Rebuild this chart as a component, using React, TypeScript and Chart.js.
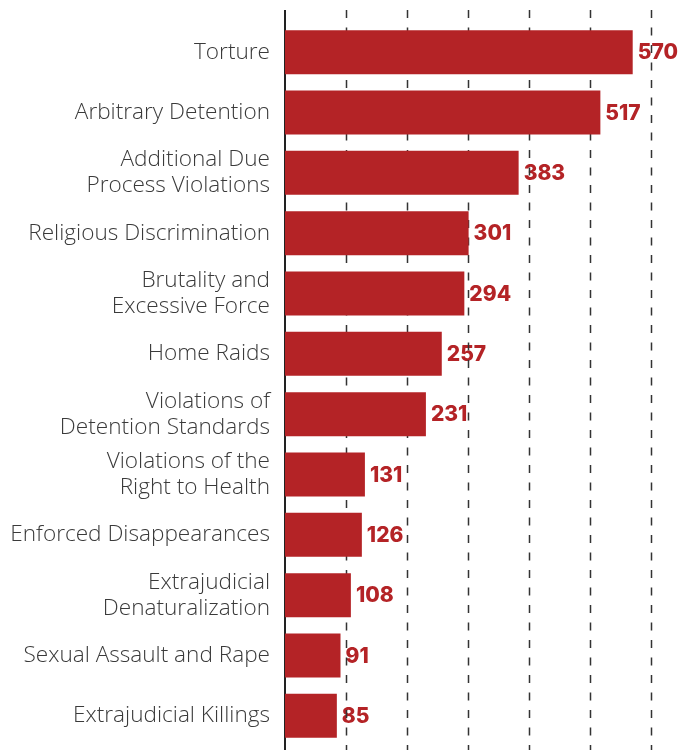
import React, { useEffect, useRef } from "react";
import { Chart, registerables } from "chart.js";

Chart.register(...registerables);

const categories: (string | string[])[] = [
  "Torture",
  "Arbitrary Detention",
  ["Additional Due", "Process Violations"],
  "Religious Discrimination",
  ["Brutality and", "Excessive Force"],
  "Home Raids",
  ["Violations of", "Detention Standards"],
  ["Violations of the", "Right to Health"],
  "Enforced Disappearances",
  ["Extrajudicial", "Denaturalization"],
  "Sexual Assault and Rape",
  "Extrajudicial Killings",
];
const values = [570, 517, 383, 301, 294, 257, 231, 131, 126, 108, 91, 85];
const gridValues = [100, 200, 300, 400, 500, 600];

const BAR_COLOR = "#b42326";

export default function App() {
  const ref = useRef<HTMLCanvasElement>(null);
  useEffect(() => {
    document.body.style.margin = "0";
    const canvas = ref.current!;
    const labelPlugin = {
      id: "valueLabels",
      beforeDraw(chart: any) {
        const ctx = chart.ctx;
        const meta = chart.getDatasetMeta(0);
        ctx.save();
        ctx.fillStyle = BAR_COLOR;
        ctx.font = "800 21px Inter";
        ctx.textAlign = "left";
        ctx.textBaseline = "middle";
        meta.data.forEach((el: any, i: number) => {
          ctx.fillText(String(values[i]), el.x + 5, el.y + 1);
        });
        ctx.restore();
      },
    };
    const gridPlugin = {
      id: "customGrid",
      beforeDatasetsDraw(chart: any) {
        const ctx = chart.ctx;
        const xs = chart.scales.x;
        ctx.save();
        ctx.strokeStyle = "#333";
        ctx.lineWidth = 1.5;
        ctx.setLineDash([8, 9.5]);
        gridValues.forEach((v) => {
          const x = Math.round(xs.getPixelForValue(v)) + 0.5;
          ctx.beginPath();
          ctx.moveTo(x, 10);
          ctx.lineTo(x, 750);
          ctx.stroke();
        });
        ctx.setLineDash([]);
        ctx.strokeStyle = "#222";
        ctx.lineWidth = 2;
        const x0 = xs.getPixelForValue(0);
        ctx.beginPath();
        ctx.moveTo(x0, 10);
        ctx.lineTo(x0, 750);
        ctx.stroke();
        ctx.restore();
      },
    };
    const chart = new Chart(canvas, {
      type: "bar",
      data: {
        labels: categories,
        datasets: [
          {
            data: values,
            backgroundColor: BAR_COLOR,
            barPercentage: 0.73,
            categoryPercentage: 1,
          },
        ],
      },
      options: {
        indexAxis: "y",
        animation: false,
        responsive: false,
        maintainAspectRatio: false,
        layout: { padding: { top: 22, bottom: 4, right: 29, left: 0 } },
        plugins: { legend: { display: false }, tooltip: { enabled: false } },
        scales: {
          x: { display: false, min: 0, max: 600 },
          y: {
            afterFit: (s: any) => {
              s.width = 285;
              s.paddingTop = 0;
              s.paddingBottom = 0;
            },
            grid: { display: false, drawTicks: false },
            border: { display: false },
            ticks: {
              padding: 15,
              color: "#3a3a3a",
              font: { family: "'Open Sans'", size: 22.6, weight: "300", lineHeight: 1.15 },
            },
          },
        },
      },
      plugins: [labelPlugin, gridPlugin],
    });
    return () => chart.destroy();
  }, []);
  return (
    <div style={{ position: "fixed", left: 0, top: 0, width: 680, height: 750 }}>
      <canvas ref={ref} width={680} height={750} />
    </div>
  );
}
